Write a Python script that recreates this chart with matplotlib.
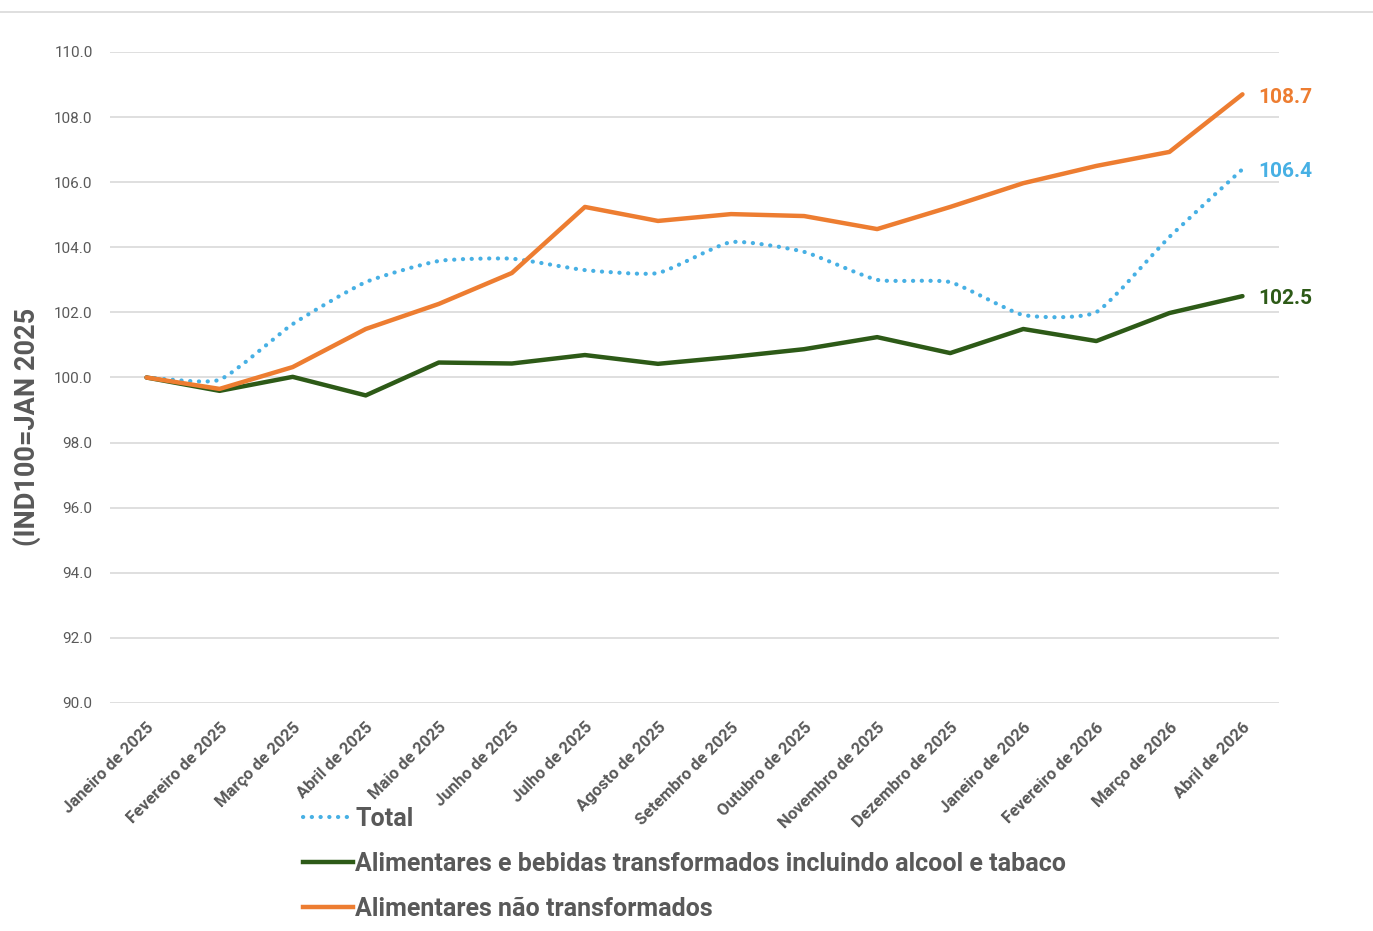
import matplotlib
matplotlib.use("Agg")
import matplotlib.pyplot as plt
from matplotlib.path import Path
from matplotlib.patches import PathPatch
from matplotlib.lines import Line2D
import numpy as np

months = ["Janeiro de 2025", "Fevereiro de 2025", "Março de 2025", "Abril de 2025",
          "Maio de 2025", "Junho de 2025", "Julho de 2025", "Agosto de 2025",
          "Setembro de 2025", "Outubro de 2025", "Novembro de 2025", "Dezembro de 2025",
          "Janeiro de 2026", "Fevereiro de 2026", "Março de 2026", "Abril de 2026"]
total = [100.0, 99.93, 101.64, 102.93, 103.58, 103.65, 103.30, 103.21,
         104.16, 103.86, 103.00, 102.93, 101.92, 102.01, 104.32, 106.4]
transformados = [100.0, 99.59, 100.02, 99.45, 100.46, 100.43, 100.69, 100.42,
                 100.63, 100.87, 101.24, 100.75, 101.49, 101.12, 101.98, 102.5]
nao_transformados = [100.0, 99.65, 100.32, 101.49, 102.26, 103.21, 105.24, 104.81,
                     105.02, 104.96, 104.56, 105.24, 105.97, 106.50, 106.93, 108.7]
yticks = [90.0, 92.0, 94.0, 96.0, 98.0, 100.0, 102.0, 104.0, 106.0, 108.0, 110.0]
names = ["Total", "Alimentares e bebidas transformados incluindo alcool e tabaco",
         "Alimentares não transformados"]

plt.rcParams["font.family"] = ["Roboto", "DejaVu Sans"]

C_BLUE = "#47B0E4"
C_GREEN = "#2D5A17"
C_ORANGE = "#ED7D31"
C_TXT = "#595959"

fig = plt.figure(figsize=(13.73, 9.31), dpi=100)
ax = fig.add_axes([110/1373, 1-703/931, (1279-110)/1373, (703-52)/931])

x = np.arange(len(months))

# smoothed path for Total (Excel-style smoothing, mild tension)
def smooth_path(xs, ys, k=0.09):
    pts = np.column_stack([xs, ys]).astype(float)
    n = len(pts)
    verts = [pts[0]]
    codes = [Path.MOVETO]
    for i in range(n - 1):
        p0 = pts[i - 1] if i > 0 else pts[i]
        p1 = pts[i]
        p2 = pts[i + 1]
        p3 = pts[i + 2] if i + 2 < n else pts[i + 1]
        c1 = p1 + (p2 - p0) * k
        c2 = p2 - (p3 - p1) * k
        verts += [c1, c2, p2]
        codes += [Path.CURVE4] * 3
    return Path(verts, codes)

dot_style = (0, (0.05, 2.05))
patch = PathPatch(smooth_path(x, total), fill=False, edgecolor=C_BLUE, lw=3.0,
                  linestyle=dot_style, capstyle="round", zorder=3)
ax.add_patch(patch)
ax.plot(x, transformados, color=C_GREEN, lw=3.2, solid_capstyle="round", zorder=3)
ax.plot(x, nao_transformados, color=C_ORANGE, lw=3.2, solid_capstyle="round", zorder=4)

# end labels
for series, col in [(nao_transformados, C_ORANGE), (total, C_BLUE), (transformados, C_GREEN)]:
    ax.annotate(f"{series[-1]:.1f}", xy=(x[-1], series[-1]), xytext=(11.5, -2),
                textcoords="offset points", color=col, fontsize=15, fontweight="bold",
                va="center", ha="left", annotation_clip=False)

ax.set_xlim(-0.5, len(months) - 0.5)
ax.set_ylim(90, 110)
ax.set_yticks(yticks)
ax.set_yticklabels([f"{v:.1f}" for v in yticks])
ax.set_xticks(x)
ax.set_xticklabels(months, rotation=45, ha="right", rotation_mode="anchor")
ax.tick_params(axis="both", length=0, colors=C_TXT)
ax.tick_params(axis="y", labelsize=11, pad=12.5)
ax.tick_params(axis="x", labelsize=12, pad=12)
for lab in ax.get_xticklabels():
    lab.set_fontweight("bold")
ax.grid(axis="y", color="#D9D9D9", lw=1.2)
ax.set_axisbelow(True)
for s in ax.spines.values():
    s.set_visible(False)

fig.text(27/1373, 1-427/931, "(IND100=JAN 2025", rotation=90, ha="center", va="center",
         fontsize=19.5, fontweight="bold", color=C_TXT)

# top border line
fig.add_artist(Line2D([0, 1], [1-12/931, 1-12/931], transform=fig.transFigure,
                      color="#D9D9D9", lw=1.2))

handles = [Line2D([], [], color=C_BLUE, lw=3.0, linestyle=dot_style, dash_capstyle="round"),
           Line2D([], [], color=C_GREEN, lw=3.2),
           Line2D([], [], color=C_ORANGE, lw=3.2)]
leg = fig.legend(handles, names, loc="upper left", bbox_to_anchor=(280/1373, 1-784/931),
                 frameon=False, handlelength=2.0, handletextpad=0.1, labelspacing=0.85,
                 prop={"size": 18, "weight": "bold"})
for t in leg.get_texts():
    t.set_color(C_TXT)

fig.savefig("out.png", dpi=100)
